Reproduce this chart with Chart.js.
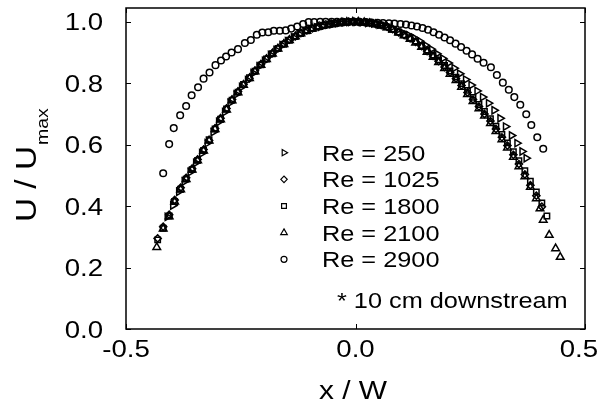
<!DOCTYPE html>
<html>
<head>
<meta charset="utf-8">
<script src="https://cdn.jsdelivr.net/npm/chart.js@4/dist/chart.umd.min.js"></script>
<style>
  html, body { margin: 0; background: #fff; }
  #wrap { width: 600px; height: 402px; }
</style>
</head>
<body>
<div id="wrap"><canvas id="chart"></canvas></div>
<script>
// tick values
const xTicks = [-0.5, 0.0, 0.5];
const yTicks = [0.0, 0.2, 0.4, 0.6, 0.8, 1.0];
const seriesLabels = ['Re = 250', 'Re = 1025', 'Re = 1800', 'Re = 2100', 'Re = 2900'];

// [x/W, U/Umax]
const re250 = [[-0.410,0.365],[-0.398,0.402],[-0.385,0.447],[-0.373,0.480],[-0.360,0.511],[-0.348,0.541],[-0.335,0.572],[-0.323,0.605],[-0.310,0.641],[-0.298,0.674],[-0.285,0.706],[-0.273,0.737],[-0.260,0.764],[-0.248,0.788],[-0.235,0.810],[-0.223,0.833],[-0.210,0.855],[-0.198,0.873],[-0.185,0.892],[-0.173,0.908],[-0.160,0.924],[-0.148,0.937],[-0.135,0.949],[-0.123,0.960],[-0.110,0.969],[-0.098,0.976],[-0.085,0.982],[-0.073,0.987],[-0.060,0.991],[-0.048,0.994],[-0.035,0.997],[-0.023,0.999],[-0.010,1.000],[0.002,1.000],[0.015,0.999],[0.027,0.997],[0.040,0.995],[0.052,0.991],[0.065,0.986],[0.077,0.980],[0.090,0.972],[0.102,0.965],[0.115,0.957],[0.127,0.948],[0.140,0.937],[0.152,0.924],[0.165,0.911],[0.177,0.896],[0.190,0.881],[0.202,0.866],[0.215,0.849],[0.227,0.831],[0.240,0.812],[0.252,0.794],[0.265,0.775],[0.277,0.755],[0.290,0.735],[0.302,0.712],[0.315,0.686],[0.327,0.659],[0.340,0.630],[0.352,0.605],[0.363,0.578],[0.372,0.556]];

const re1025 = [[-0.431,0.295],[-0.419,0.333],[-0.406,0.372],[-0.394,0.420],[-0.381,0.460],[-0.369,0.492],[-0.356,0.522],[-0.344,0.552],[-0.331,0.584],[-0.319,0.614],[-0.306,0.653],[-0.294,0.686],[-0.281,0.718],[-0.269,0.747],[-0.256,0.773],[-0.244,0.796],[-0.231,0.816],[-0.219,0.841],[-0.206,0.862],[-0.194,0.880],[-0.181,0.898],[-0.169,0.914],[-0.156,0.929],[-0.144,0.942],[-0.131,0.953],[-0.119,0.963],[-0.106,0.972],[-0.094,0.979],[-0.081,0.984],[-0.069,0.989],[-0.056,0.992],[-0.044,0.995],[-0.031,0.998],[-0.019,0.999],[-0.006,1.000],[0.006,1.000],[0.019,0.999],[0.031,0.997],[0.044,0.993],[0.056,0.989],[0.069,0.984],[0.081,0.976],[0.094,0.966],[0.106,0.957],[0.119,0.946],[0.131,0.935],[0.144,0.921],[0.156,0.905],[0.169,0.889],[0.181,0.872],[0.194,0.853],[0.206,0.835],[0.219,0.815],[0.231,0.793],[0.244,0.770],[0.256,0.747],[0.269,0.724],[0.281,0.700],[0.294,0.677],[0.306,0.651],[0.319,0.624],[0.331,0.597],[0.344,0.567],[0.356,0.537],[0.369,0.503],[0.381,0.468],[0.394,0.434],[0.406,0.398]];

const re1800 = [[-0.431,0.290],[-0.419,0.328],[-0.406,0.368],[-0.394,0.415],[-0.381,0.455],[-0.369,0.488],[-0.356,0.519],[-0.344,0.549],[-0.331,0.581],[-0.319,0.616],[-0.306,0.651],[-0.294,0.683],[-0.281,0.716],[-0.269,0.745],[-0.256,0.771],[-0.244,0.796],[-0.231,0.818],[-0.219,0.839],[-0.206,0.860],[-0.194,0.879],[-0.181,0.896],[-0.169,0.913],[-0.156,0.927],[-0.144,0.940],[-0.131,0.952],[-0.119,0.962],[-0.106,0.971],[-0.094,0.978],[-0.081,0.984],[-0.069,0.988],[-0.056,0.992],[-0.044,0.995],[-0.031,0.997],[-0.019,0.999],[-0.006,1.000],[0.006,1.000],[0.019,0.998],[0.031,0.996],[0.044,0.993],[0.056,0.989],[0.069,0.983],[0.081,0.976],[0.094,0.967],[0.106,0.958],[0.119,0.948],[0.131,0.937],[0.144,0.923],[0.156,0.908],[0.169,0.892],[0.181,0.876],[0.194,0.858],[0.206,0.840],[0.219,0.820],[0.231,0.799],[0.244,0.777],[0.256,0.754],[0.269,0.731],[0.281,0.708],[0.294,0.685],[0.306,0.660],[0.319,0.633],[0.331,0.606],[0.344,0.577],[0.356,0.548],[0.369,0.515],[0.381,0.481],[0.394,0.446],[0.406,0.410],[0.417,0.368]];

const re2100 = [[-0.433,0.266],[-0.419,0.326],[-0.406,0.366],[-0.394,0.414],[-0.381,0.454],[-0.369,0.487],[-0.356,0.518],[-0.344,0.548],[-0.331,0.580],[-0.319,0.613],[-0.306,0.650],[-0.294,0.682],[-0.281,0.714],[-0.269,0.744],[-0.256,0.770],[-0.244,0.794],[-0.231,0.816],[-0.219,0.838],[-0.206,0.859],[-0.194,0.878],[-0.181,0.896],[-0.169,0.912],[-0.156,0.927],[-0.144,0.940],[-0.131,0.952],[-0.119,0.962],[-0.106,0.970],[-0.094,0.977],[-0.081,0.983],[-0.069,0.988],[-0.056,0.991],[-0.044,0.994],[-0.031,0.997],[-0.019,0.999],[-0.006,1.000],[0.006,1.000],[0.019,0.998],[0.031,0.995],[0.044,0.992],[0.056,0.988],[0.069,0.982],[0.081,0.974],[0.094,0.964],[0.106,0.955],[0.119,0.944],[0.131,0.932],[0.144,0.918],[0.156,0.902],[0.169,0.885],[0.181,0.868],[0.194,0.849],[0.206,0.830],[0.219,0.810],[0.231,0.788],[0.244,0.764],[0.256,0.741],[0.269,0.718],[0.281,0.694],[0.294,0.670],[0.306,0.644],[0.319,0.617],[0.331,0.590],[0.344,0.560],[0.356,0.529],[0.369,0.496],[0.381,0.462],[0.394,0.425],[0.402,0.392],[0.409,0.355],[0.422,0.306],[0.436,0.262],[0.446,0.234]];

const re2900 = [[-0.419,0.507],[-0.406,0.602],[-0.396,0.654],[-0.382,0.696],[-0.369,0.726],[-0.357,0.761],[-0.343,0.787],[-0.331,0.815],[-0.318,0.835],[-0.305,0.859],[-0.293,0.874],[-0.282,0.887],[-0.270,0.900],[-0.256,0.911],[-0.241,0.931],[-0.228,0.941],[-0.215,0.958],[-0.203,0.965],[-0.190,0.966],[-0.178,0.971],[-0.165,0.971],[-0.152,0.972],[-0.140,0.978],[-0.127,0.985],[-0.114,0.993],[-0.102,0.999],[-0.090,0.999],[-0.077,1.000],[-0.065,1.000],[-0.052,1.000],[-0.040,1.000],[-0.027,1.000],[-0.015,1.000],[-0.002,1.000],[0.010,0.999],[0.023,0.999],[0.035,0.998],[0.048,0.997],[0.060,0.996],[0.073,0.995],[0.085,0.994],[0.098,0.993],[0.110,0.991],[0.122,0.988],[0.134,0.985],[0.146,0.980],[0.158,0.974],[0.170,0.966],[0.182,0.958],[0.194,0.949],[0.206,0.940],[0.218,0.929],[0.230,0.918],[0.242,0.906],[0.254,0.894],[0.266,0.880],[0.279,0.867],[0.295,0.852],[0.308,0.827],[0.321,0.802],[0.334,0.779],[0.346,0.755],[0.359,0.730],[0.372,0.699],[0.383,0.664],[0.396,0.624],[0.409,0.587]];

const FONT = "'Liberation Sans', Arial, sans-serif";
const STRETCH = 1.15;   // the source type is a little wide
const toXY = arr => arr.map(p => ({ x: p[0], y: p[1] }));

// marker per series
const markers = [
  { pointStyle:'triangle', rotation:90, radius:4.2 },
  { pointStyle:'rectRot',  rotation:0,  radius:3.6 },
  { pointStyle:'rect',     rotation:0,  radius:3.8 },
  { pointStyle:'triangle', rotation:0,  radius:4.4 },
  { pointStyle:'circle',   rotation:0,  radius:3.3 }
];
const legendMarkers = [
  { pointStyle:'triangle', rotation:90, radius:3.6 },
  { pointStyle:'rectRot',  rotation:0,  radius:3.2 },
  { pointStyle:'rect',     rotation:0,  radius:3.4 },
  { pointStyle:'triangle', rotation:0,  radius:3.8 },
  { pointStyle:'circle',   rotation:0,  radius:3.0 }
];
const allSeries = [re250, re1025, re1800, re2100, re2900];

const datasets = allSeries.map((s, i) => ({
  label: seriesLabels[i],
  data: toXY(s),
  pointStyle: markers[i].pointStyle,
  rotation: markers[i].rotation,
  pointRadius: markers[i].radius,
  borderColor: '#000',
  backgroundColor: 'rgba(255,255,255,0)',
  borderWidth: 1.5
}));

// text drawn a bit wider than the font
function wideText(ctx, txt, x, y, size, align) {
  ctx.save();
  ctx.font = size + 'px ' + FONT;
  const w = ctx.measureText(txt).width * STRETCH;
  let x0 = x;
  if (align === 'center') x0 = x - w / 2;
  else if (align === 'right') x0 = x - w;
  ctx.translate(x0, y);
  ctx.scale(STRETCH, 1);
  ctx.textAlign = 'left';
  ctx.fillText(txt, 0, 0);
  ctx.restore();
  return w;
}

// frame, inner ticks, labels, titles, legend
const decor = {
  id: 'decor',
  afterDraw(chart) {
    const { ctx, chartArea: a, scales: { x, y } } = chart;
    ctx.save();
    ctx.strokeStyle = '#000';
    ctx.fillStyle = '#000';
    ctx.lineWidth = 1.5;
    ctx.strokeRect(a.left, a.top, a.right - a.left, a.bottom - a.top);

    ctx.lineWidth = 1;
    ctx.beginPath();
    yTicks.forEach(v => {
      const py = Math.round(y.getPixelForValue(v)) + 0.5;
      ctx.moveTo(a.left, py); ctx.lineTo(a.left + 5, py);
      ctx.moveTo(a.right, py); ctx.lineTo(a.right - 5, py);
    });
    xTicks.forEach(v => {
      const px = Math.round(x.getPixelForValue(v)) + 0.5;
      ctx.moveTo(px, a.bottom); ctx.lineTo(px, a.bottom - 5);
      ctx.moveTo(px, a.top); ctx.lineTo(px, a.top + 5);
    });
    ctx.stroke();

    // tick labels
    ctx.textBaseline = 'alphabetic';
    yTicks.forEach(v => {
      wideText(ctx, v.toFixed(1), a.left - 23, y.getPixelForValue(v) + 8.5, 24, 'right');
    });
    xTicks.forEach(v => {
      const t = v.toFixed(1);
      ctx.font = '24px ' + FONT;
      const w = ctx.measureText(t).width * STRETCH;
      let px = x.getPixelForValue(v);
      px = Math.min(px, chart.width - 2 - w / 2);
      wideText(ctx, t, px, a.bottom + 28, 24, 'center');
    });

    // axis titles
    wideText(ctx, 'x / W', 353, 399, 26, 'center');

    ctx.save();
    ctx.translate(36, 222);
    ctx.rotate(-Math.PI / 2);
    const mw = wideText(ctx, 'U / U', 0, 0, 29, 'left');
    wideText(ctx, 'max', mw + 1, 12, 17, 'left');
    ctx.restore();

    // legend
    seriesLabels.forEach((lab, i) => {
      const ry = 152.7 + i * 26.65;
      ctx.lineWidth = 1.2;
      ctx.fillStyle = 'rgba(255,255,255,0)';
      if (Chart.helpers && Chart.helpers.drawPoint) {
        Chart.helpers.drawPoint(ctx, {
          pointStyle: legendMarkers[i].pointStyle,
          rotation: legendMarkers[i].rotation,
          radius: legendMarkers[i].radius,
          borderWidth: 1.2
        }, 284, ry);
      }
      ctx.fillStyle = '#000';
      wideText(ctx, lab, 322, ry + 8, 22, 'left');
    });

    wideText(ctx, '* 10 cm downstream', 337, 308, 22, 'left');
    ctx.restore();
  }
};

new Chart(document.getElementById('chart'), {
  type: 'scatter',
  data: { datasets },
  options: {
    responsive: true, maintainAspectRatio: false, animation: false,
    layout: { padding: { left: 126, right: 15, top: 8, bottom: 73 } },
    scales: {
      x: { display: false, min: -0.5, max: 0.5 },
      y: { display: false, min: 0, max: 1.045 }
    },
    plugins: { legend: { display: false }, tooltip: { enabled: false } }
  },
  plugins: [decor]
});
</script>
</body>
</html>
